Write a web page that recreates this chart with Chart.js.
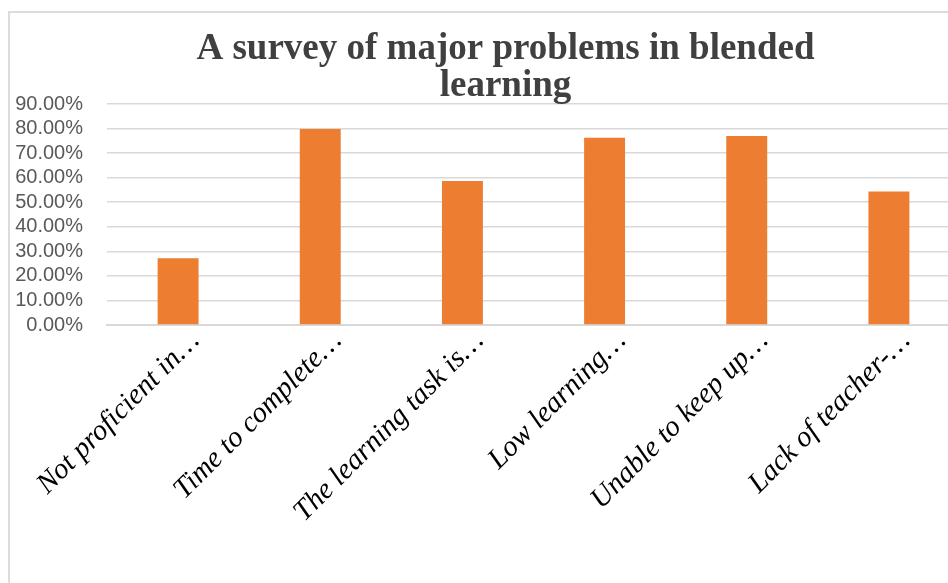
<!DOCTYPE html>
<html>
<head>
<meta charset="utf-8">
<title>A survey of major problems in blended learning</title>
<script src="https://cdn.jsdelivr.net/npm/chart.js@4/dist/chart.umd.min.js"></script>
<style>
  html, body { margin: 0; padding: 0; background: #fff; overflow: hidden; }
  #frame {
    position: absolute;
    left: 8px;
    top: 11px;
    width: 1040px;
    height: 640px;
    border: 2px solid #dcdcdc;
    background: #fff;
  }
  #problemsChart { display: block; }
</style>
</head>
<body>
<div id="frame">
  <canvas id="problemsChart" width="991" height="600"></canvas>
</div>
<script>
// Survey results: share of students reporting each problem
const problemLabels = [
    'Not proficient in…',
    'Time to complete…',
    'The learning task is…',
    'Low learning…',
    'Unable to keep up…',
    'Lack of teacher-…'
];
const problemShares = [0.272, 0.798, 0.586, 0.763, 0.770, 0.544];
const yTicks = [0, 0.1, 0.2, 0.3, 0.4, 0.5, 0.6, 0.7, 0.8, 0.9];

const barColor = '#ed7d31';
const gridColor = '#d9d9d9';

function initProblemsChart() {
    const ctx = document.getElementById('problemsChart');
    return new Chart(ctx, {
        type: 'bar',
        data: {
            labels: problemLabels,
            datasets: [{
                label: 'Share',
                data: problemShares,
                backgroundColor: barColor,
                borderWidth: 0,
                categoryPercentage: 1,
                barPercentage: 0.288
            }]
        },
        options: {
            responsive: false,
            animation: false,
            devicePixelRatio: 1,
            layout: {
                padding: 0
            },
            plugins: {
                legend: { display: false },
                tooltip: { enabled: false },
                title: {
                    display: true,
                    text: ['A survey of major problems in blended', 'learning'],
                    color: '#404040',
                    font: { family: 'Liberation Serif', size: 37, weight: 'bold', lineHeight: 1 },
                    padding: { top: 18, bottom: -1 }
                }
            },
            scales: {
                x: {
                    grid: { display: false },
                    border: { display: true, color: gridColor, width: 2 },
                    ticks: {
                        autoSkip: false,
                        minRotation: 45,
                        maxRotation: 45,
                        padding: -9,
                        labelOffset: 17,
                        color: '#000',
                        font: { family: 'Liberation Serif', size: 29, style: 'italic' }
                    },
                    afterFit: (scale) => { scale.height = 288; }
                },
                y: {
                    min: 0,
                    max: 0.9,
                    afterBuildTicks: (scale) => {
                        scale.ticks = yTicks.map(v => ({ value: v }));
                    },
                    grid: { color: gridColor, lineWidth: 1.5, drawTicks: false },
                    border: { display: false },
                    ticks: {
                        autoSkip: false,
                        padding: 24,
                        color: '#595959',
                        font: { family: 'Liberation Sans', size: 20 },
                        callback: (v) => (v * 100).toFixed(2) + '%'
                    },
                    afterFit: (scale) => { scale.width = 97; }
                },
                // empty right-hand margin so the plot ends where the frame is cut off
                spacer: {
                    type: 'linear',
                    position: 'right',
                    grid: { display: false, drawTicks: false },
                    border: { display: false },
                    ticks: { display: false },
                    afterFit: (scale) => { scale.width = 41; }
                }
            }
        }
    });
}

initProblemsChart();
</script>
</body>
</html>
